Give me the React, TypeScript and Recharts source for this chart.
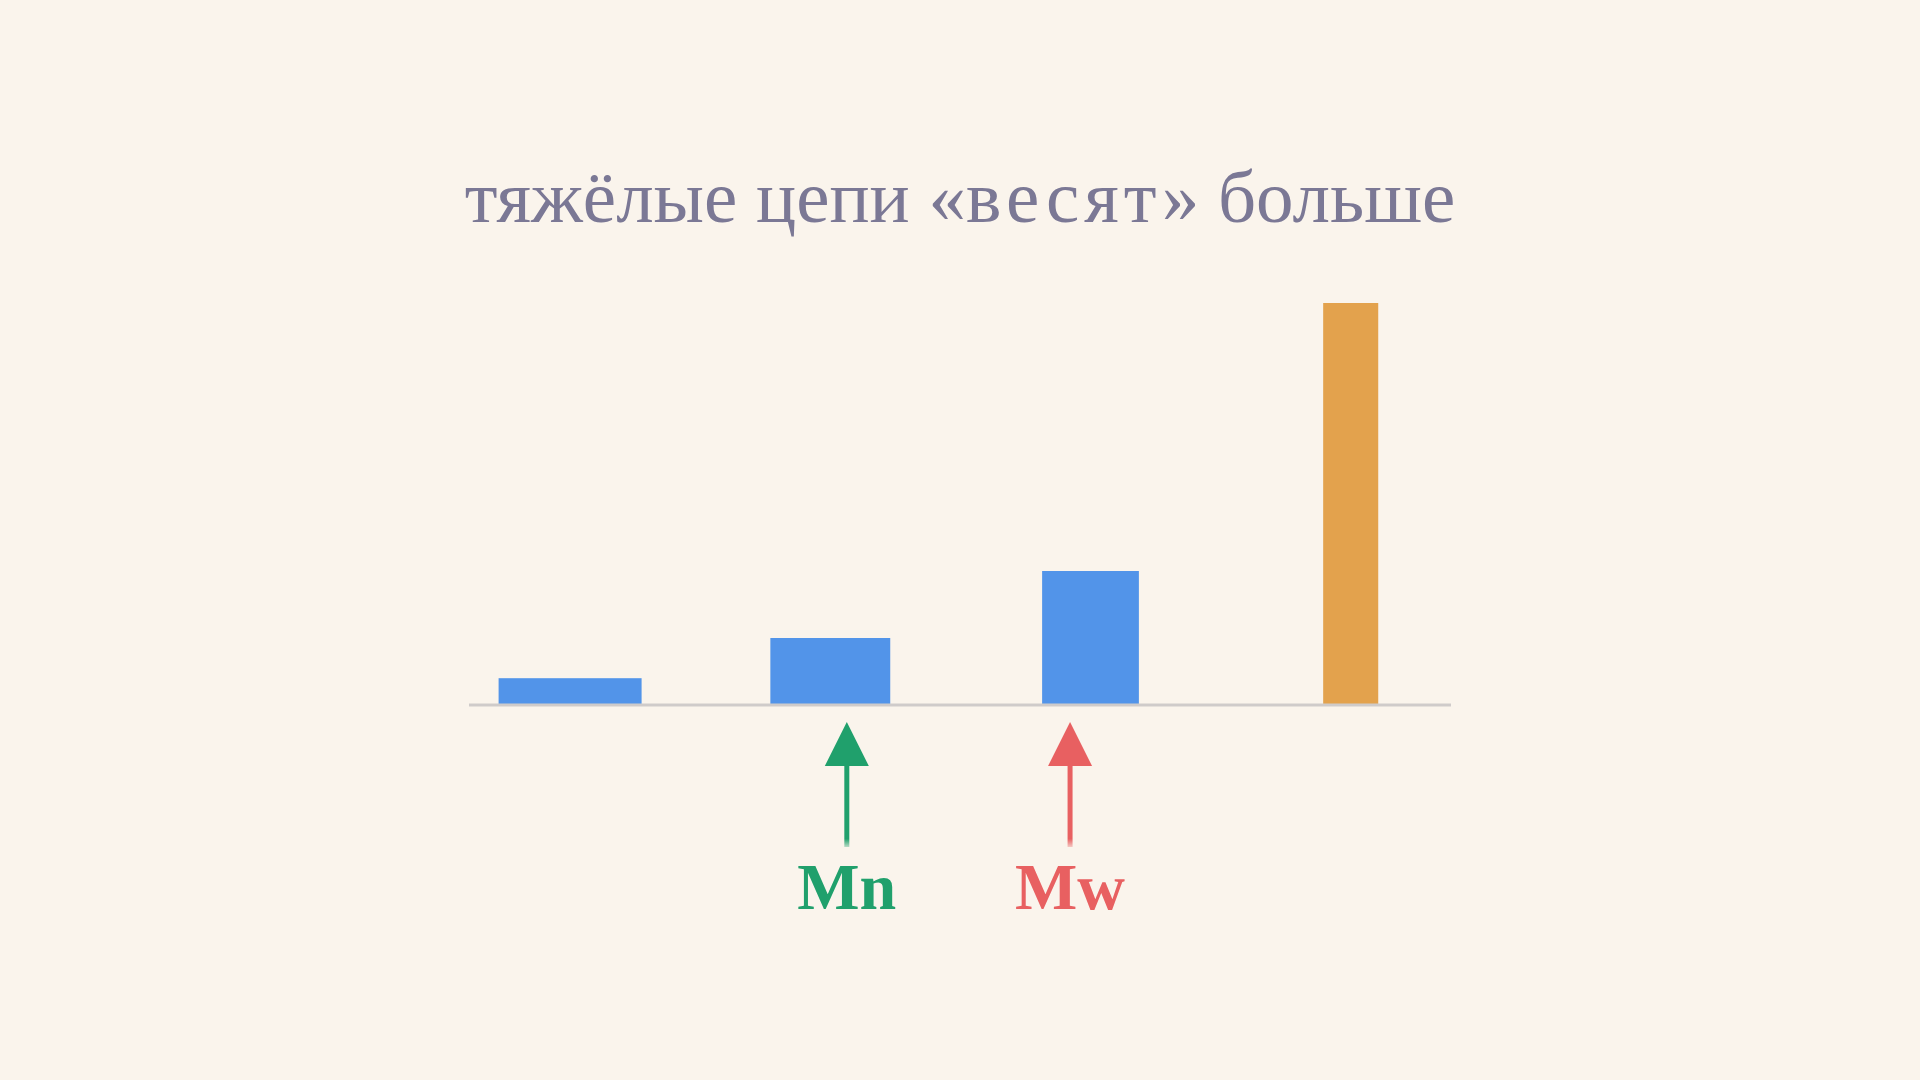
import { Bar, ComposedChart, XAxis, YAxis } from 'recharts'

// chain groups: mass of one chain (bar height) and relative number of chains (bar width)
const chainGroups = ['лёгкие', 'средние', 'длинные', 'тяжёлые']
const groupPositions = [1, 2, 3, 4]
const chainMass = [2, 5, 10, 30]
const chainCount = [6, 5.03, 4.06, 2.31]

// averages marked under the axis
const averageNames = ['Mn', 'Mw']
const averagePositions = [2.065, 2.923]

const TITLE_START = 'тяжёлые цепи «'
const TITLE_SPACED = 'весят'
const TITLE_END = '» больше'

const BG = '#faf4ec'
const BAR_COLORS = ['#5294e9', '#5294e9', '#5294e9', '#e3a24d']
const AVERAGE_COLORS = ['#20a06c', '#e86061']
const AXIS_COLOR = '#cfcbca'
const TITLE_COLOR = '#7b7895'
const SERIF = "'Liberation Serif', serif"

const MAX_COUNT = Math.max(...chainCount)

const data = chainGroups.map((name, i) => ({
  name,
  pos: groupPositions[i],
  mass: chainMass[i],
  count: chainCount[i],
}))

function ChainBar(props: any) {
  const { x, y, width, height, payload, index } = props
  const w = (width * payload.count) / MAX_COUNT
  return <rect x={x + width / 2 - w / 2} y={y} width={w} height={height} fill={BAR_COLORS[index]} />
}

function AverageTick(props: any) {
  const { x, y, payload } = props
  const i = averagePositions.indexOf(payload.value)
  if (i < 0) return null
  const color = AVERAGE_COLORS[i]
  const gradId = `shaft-${i}`
  return (
    <g>
      <defs>
        <linearGradient id={gradId} x1="0" y1="0" x2="0" y2="1">
          <stop offset="0.9" stopColor={color} stopOpacity={1} />
          <stop offset="1" stopColor={color} stopOpacity={0.3} />
        </linearGradient>
      </defs>
      <polygon points={`${x},${y + 17} ${x - 22},${y + 61} ${x + 22},${y + 61}`} fill={color} />
      <rect x={x - 2.5} y={y + 60} width={5} height={82} fill={`url(#${gradId})`} />
      <text x={x} y={y + 204} textAnchor="middle" fill={color} fontFamily={SERIF} fontWeight="bold" fontSize={66}>
        {averageNames[i]}
      </text>
    </g>
  )
}

export default function App() {
  return (
    <div style={{ position: 'absolute', left: 0, top: 0, width: 1920, height: 1080, background: BG }}>
      <svg width={1920} height={1080} style={{ position: 'absolute', left: 0, top: 0 }}>
        <text x={960} y={222} textAnchor="middle" fill={TITLE_COLOR} fontFamily={SERIF} fontSize={75}>
          {TITLE_START}
          <tspan letterSpacing={5}>{TITLE_SPACED}</tspan>
          {TITLE_END}
        </text>
      </svg>
      <div style={{ position: 'absolute', left: 0, top: 0 }}>
        <ComposedChart width={1920} height={1080} data={data} margin={{ top: 303, right: 469, bottom: 0, left: 469 }}>
          <XAxis
            type="number"
            dataKey="pos"
            domain={[0.613, 4.387]}
            allowDataOverflow
            ticks={averagePositions}
            interval={0}
            height={375}
            axisLine={{ stroke: AXIS_COLOR, strokeWidth: 3 }}
            tickLine={false}
            tickSize={0}
            tickMargin={0}
            tick={<AverageTick />}
          />
          <YAxis hide domain={[0, 30]} allowDataOverflow />
          <Bar dataKey="mass" barSize={143} shape={<ChainBar />} isAnimationActive={false} />
        </ComposedChart>
      </div>
    </div>
  )
}
